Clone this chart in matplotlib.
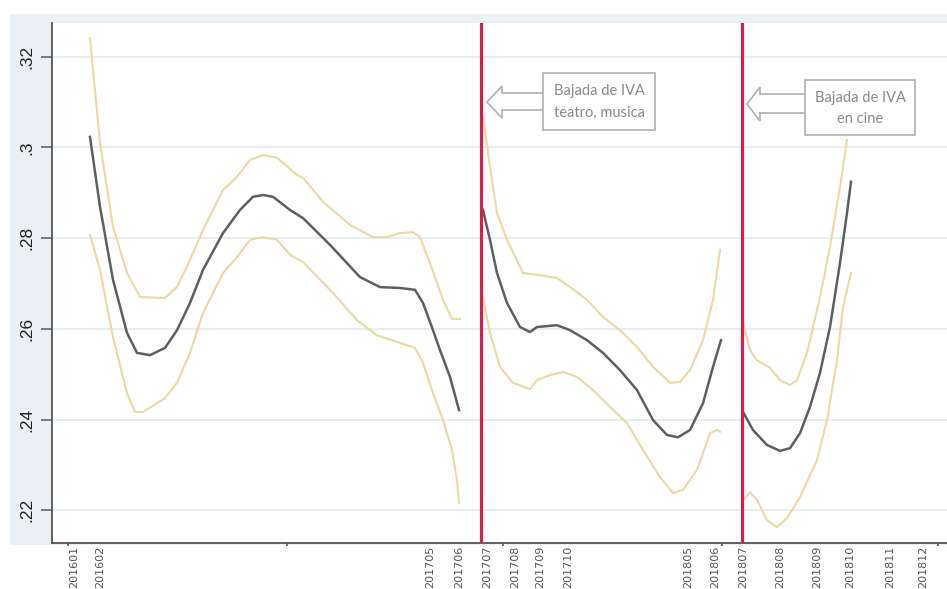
import matplotlib
matplotlib.use("Agg")
import matplotlib.pyplot as plt
from matplotlib.patches import Rectangle, Polygon
from matplotlib.transforms import ScaledTranslation

W, H = 947, 589

# horizontal axis: positions of the month labels (same units as the x data)
tick_pos = [74, 100, 430, 459, 487, 515, 540, 568, 688, 715, 743, 780, 817, 850, 890, 923]
tick_lab = ["201601", "201602", "201705", "201706", "201707", "201708", "201709", "201710",
            "201805", "201806", "201807", "201808", "201809", "201810", "201811", "201812"]
minor_pos = [68, 287, 503, 722, 938]
yticks = [0.22, 0.24, 0.26, 0.28, 0.30, 0.32]
ylabels = [".22", ".24", ".26", ".28", ".3", ".32"]

# IVA cuts (red vertical lines)
cortes = [481, 742]

# --- tramo 1: 201601 - 201706
s1_mid_x = [90, 100, 113, 127, 137, 150, 165, 177, 190, 203, 223, 240, 253, 263, 273, 290,
            303, 330, 360, 380, 400, 415, 423, 433, 440, 450, 459]
s1_mid = [0.3023, 0.2869, 0.2708, 0.2591, 0.2547, 0.2542, 0.2558, 0.2597, 0.2657, 0.2730,
          0.2811, 0.2862, 0.2891, 0.2895, 0.2891, 0.2862, 0.2844, 0.2785, 0.2714, 0.2692,
          0.2690, 0.2686, 0.2657, 0.2597, 0.2553, 0.2494, 0.2421]
s1_up_x = [90, 100, 113, 127, 140, 165, 177, 190, 203, 223, 237, 250, 263, 277, 297, 303,
           323, 350, 373, 387, 400, 413, 420, 430, 443, 452, 460]
s1_up = [0.3241, 0.3010, 0.2825, 0.2723, 0.2670, 0.2668, 0.2692, 0.2752, 0.2818, 0.2906,
         0.2935, 0.2972, 0.2983, 0.2977, 0.2939, 0.2933, 0.2880, 0.2829, 0.2802, 0.2802,
         0.2811, 0.2813, 0.2802, 0.2745, 0.2664, 0.2622, 0.2622]
s1_lo_x = [90, 100, 113, 127, 135, 143, 165, 177, 190, 203, 223, 237, 250, 263, 277, 290,
           303, 333, 357, 377, 400, 415, 423, 433, 443, 452, 457, 459]
s1_lo = [0.2807, 0.2730, 0.2582, 0.2458, 0.2417, 0.2417, 0.2447, 0.2481, 0.2547, 0.2635,
         0.2723, 0.2758, 0.2796, 0.2802, 0.2796, 0.2763, 0.2747, 0.2679, 0.2619, 0.2586,
         0.2569, 0.2558, 0.2525, 0.2458, 0.2399, 0.2333, 0.2267, 0.2216]

# --- tramo 2: 201707 - 201806
s2_mid_x = [483, 490, 497, 507, 520, 530, 537, 557, 570, 587, 603, 620, 637, 653, 667, 678,
            690, 703, 713, 721]
s2_mid = [0.2862, 0.2796, 0.2723, 0.2657, 0.2604, 0.2593, 0.2604, 0.2608, 0.2597, 0.2575,
          0.2547, 0.2509, 0.2465, 0.2399, 0.2366, 0.2361, 0.2377, 0.2436, 0.2516, 0.2575]
s2_up_x = [483, 490, 497, 507, 523, 537, 557, 570, 587, 603, 620, 637, 653, 670, 680, 690,
           703, 713, 720]
s2_up = [0.3067, 0.2957, 0.2855, 0.2796, 0.2723, 0.2719, 0.2712, 0.2692, 0.2664, 0.2626,
         0.2597, 0.2560, 0.2516, 0.2481, 0.2483, 0.2509, 0.2575, 0.2664, 0.2774]
s2_lo_x = [483, 490, 500, 513, 530, 537, 550, 563, 577, 593, 610, 627, 643, 660, 673, 683,
           697, 710, 717, 720]
s2_lo = [0.2668, 0.2591, 0.2516, 0.2481, 0.2467, 0.2487, 0.2498, 0.2505, 0.2494, 0.2465,
         0.2428, 0.2392, 0.2333, 0.2273, 0.2238, 0.2245, 0.2289, 0.2370, 0.2377, 0.2373]

# --- tramo 3: 201807 - 201810
s3_mid_x = [743, 753, 767, 780, 790, 800, 810, 820, 830, 840, 847, 851]
s3_mid = [0.2417, 0.2377, 0.2344, 0.2331, 0.2337, 0.2370, 0.2428, 0.2503, 0.2604, 0.2745,
          0.2855, 0.2924]
s3_up_x = [743, 750, 757, 770, 780, 790, 797, 807, 820, 830, 840, 847]
s3_up = [0.2615, 0.2553, 0.2531, 0.2514, 0.2487, 0.2476, 0.2487, 0.2547, 0.2670, 0.2780,
         0.2913, 0.3016]
s3_lo_x = [743, 750, 757, 767, 777, 787, 800, 817, 827, 837, 843, 851]
s3_lo = [0.2223, 0.2240, 0.2223, 0.2178, 0.2163, 0.2183, 0.2229, 0.2311, 0.2399, 0.2531,
         0.2648, 0.2723]

notas = [("Bajada de IVA", "teatro, musica"), ("Bajada de IVA", "en cine")]

MID = "#5f5f5f"
CI = "#e9d9a2"
RED = "#d61f4f"
GRID = "#e3eef2"
BG = "#e9f1f4"


def fx(x):
    return x / W


def fy(y):
    return 1 - y / H


fig = plt.figure(figsize=(W / 100, H / 100), dpi=100)
fig.patch.set_facecolor("white")
fig.add_artist(Rectangle((fx(10), fy(545)), fx(947 - 10), (545 - 14) / H,
                         transform=fig.transFigure, facecolor=BG, edgecolor="none", zorder=0))

ax = fig.add_axes([fx(52), fy(543), 1 - fx(52), (543 - 23) / H], zorder=1)
ax.set_facecolor("white")

for x, y in [(s1_up_x, s1_up), (s1_lo_x, s1_lo), (s2_up_x, s2_up), (s2_lo_x, s2_lo),
             (s3_up_x, s3_up), (s3_lo_x, s3_lo)]:
    ax.plot(x, y, color=CI, lw=1.5, zorder=3)
for x, y in [(s1_mid_x, s1_mid), (s2_mid_x, s2_mid), (s3_mid_x, s3_mid)]:
    ax.plot(x, y, color=MID, lw=1.8, zorder=4)

for c in cortes:
    ax.axvline(c, color=RED, lw=2.3, zorder=5)

ax.set_xlim(52, 947)
ax.set_ylim(0.2128, 0.3274)

ax.set_yticks(yticks)
ax.set_yticklabels(ylabels, rotation=90, va="center", fontsize=12.5,
                   family="Liberation Sans", color="#222222")
# labels sit a few pixels above their ticks in the original
shift = ScaledTranslation(0, 4 / 72, fig.dpi_scale_trans)
for lab in ax.get_yticklabels():
    lab.set_transform(lab.get_transform() + shift)
ax.tick_params(axis="y", length=8, width=1.2, color="#666666", pad=5)
ax.grid(axis="y", color=GRID, lw=1.3, zorder=1)

ax.set_xticks(tick_pos)
ax.set_xticklabels(tick_lab, rotation=90, fontsize=8, color="#555555")
ax.set_xticks(minor_pos, minor=True)
ax.tick_params(axis="x", which="major", length=0, pad=2)
ax.tick_params(axis="x", which="minor", length=2.5, width=1.2, color="#555555")

for s in ["top", "right"]:
    ax.spines[s].set_visible(False)
ax.spines["left"].set_color("#555555")
ax.spines["left"].set_linewidth(1.3)
ax.spines["bottom"].set_color("#555555")
ax.spines["bottom"].set_linewidth(1.3)

# callout boxes with hollow arrows pointing to the red lines
boxes = [(543, 655, 73, 130), (805, 915, 80, 135)]
arrows = [(487, 502, 102, 93, 110, 86, 118), (747, 760, 104, 94, 113, 87, 121)]
for (x0, x1, y0, y1), (tip, hx, ty, st, sb, ht, hb), (l1, l2) in zip(boxes, arrows, notas):
    pts = [(x0, st), (hx, st), (hx, ht), (tip, ty), (hx, hb), (hx, sb), (x0, sb)]
    fig.add_artist(Polygon([(fx(a), fy(b)) for a, b in pts], closed=False,
                           transform=fig.transFigure, facecolor="white",
                           edgecolor="#b5b5b5", lw=1.3, zorder=6))
    fig.add_artist(Rectangle((fx(x0), fy(y1)), fx(x1 - x0), (y1 - y0) / H,
                             transform=fig.transFigure, facecolor="white",
                             edgecolor="#b5b5b5", lw=1.3, zorder=6))
    cx = (x0 + x1) / 2
    cy = (y0 + y1) / 2
    fig.text(fx(cx), fy(cy - 10), l1, ha="center", va="center", fontsize=10.5,
             family="Lato", color="#8a8a8a", zorder=7)
    fig.text(fx(cx), fy(cy + 11), l2, ha="center", va="center", fontsize=10.5,
             family="Lato", color="#8a8a8a", zorder=7)

fig.savefig("out.png", dpi=100, facecolor="white")
